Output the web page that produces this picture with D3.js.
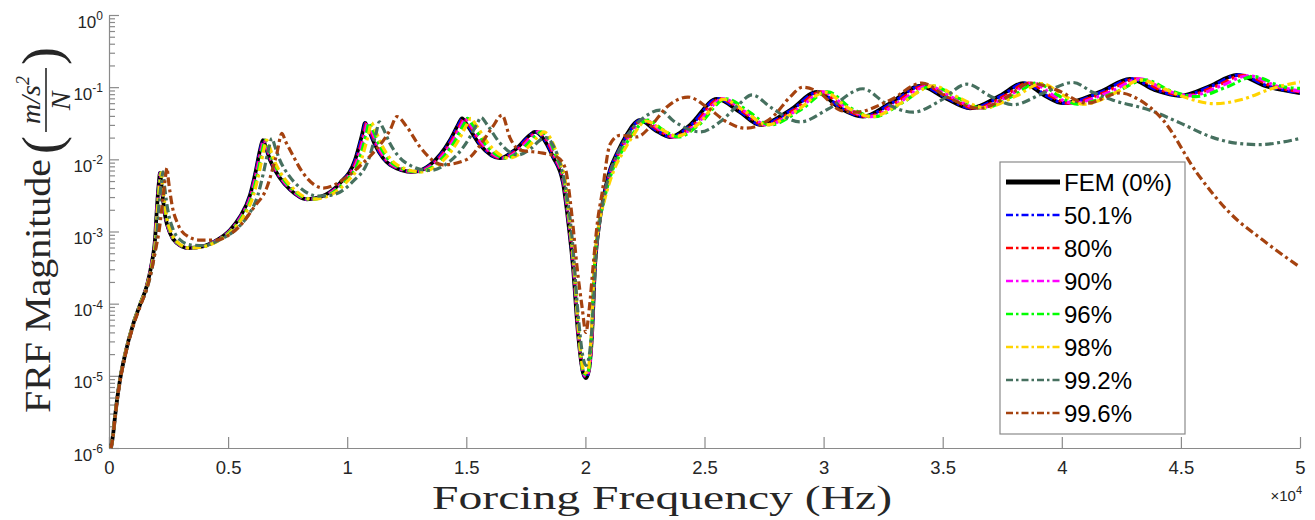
<!DOCTYPE html>
<html>
<head>
<meta charset="utf-8">
<script src="https://cdn.jsdelivr.net/npm/d3@7/dist/d3.min.js"></script>
<style>
  body { margin: 0; background: #fff; }
  svg { display: block; }
</style>
</head>
<body>
<div id="chart"></div>
<script>
// ---- data (frequency in Hz, FRF magnitude in (m/s^2)/N) ----
const legendLabels = ["FEM (0%)", "50.1%", "80%", "90%", "96%", "98%", "99.2%", "99.6%"];
const lineColors = ["#000000", "#0000ff", "#ff0000", "#ff00ff", "#00ff00", "#ffd400", "#46705f", "#a5420f"];
const xTickValues = [0, 5000, 10000, 15000, 20000, 25000, 30000, 35000, 40000, 45000, 50000];
const yTickExps = [-6, -5, -4, -3, -2, -1, 0];

const fem = [[84,1.0e-6],[168,1.5e-6],[252,2.7e-6],[336,4.6e-6],[462,8.8e-6],[672,1.95e-5],[1008,5.1e-5],[1300,9.6e-5],[1595,1.8e-4],[1805,3.8e-4],[1930,7.6e-4],[2015,2.2e-3],[2100,5.0e-3],[2140,6.5e-3],[2220,3.8e-3],[2350,1.7e-3],[2560,9.5e-4],[2850,6.9e-4],[3320,5.9e-4],[3820,6.1e-4],[4530,7.6e-4],[5080,1.05e-3],[5500,1.6e-3],[5920,3.2e-3],[6170,7.1e-3],[6340,1.35e-2],[6460,1.85e-2],[6590,1.44e-2],[6760,9.8e-3],[7180,5.5e-3],[7600,3.8e-3],[8310,2.8e-3],[8860,3.0e-3],[9700,4.7e-3],[10330,9.8e-3],[10620,2.17e-2],[10750,3.2e-2],[10870,2.7e-2],[11170,1.58e-2],[11800,8.4e-3],[12760,6.7e-3],[13480,8.4e-3],[14320,1.85e-2],[14650,3.0e-2],[14820,3.7e-2],[15030,3.0e-2],[15580,1.58e-2],[16410,1.04e-2],[17040,1.35e-2],[17670,2.17e-2],[17880,2.4e-2],[18180,2.04e-2],[18640,1.08e-2],[19060,4.7e-3],[19270,1.44e-3],[19480,3.2e-4],[19690,3.9e-5],[19900,1.1e-5],[20020,9.3e-6],[20150,1.2e-5],[20280,3.9e-5],[20400,3.2e-4],[20570,1.2e-3],[20740,2.7e-3],[21030,7.1e-3],[21330,1.22e-2],[21660,2.0e-2],[22290,3.5e-2],[22920,2.55e-2],[23550,2.04e-2],[24390,3.0e-2],[25520,6.9e-2],[26490,4.5e-2],[27330,3.0e-2],[28590,4.8e-2],[29720,8.6e-2],[30690,5.1e-2],[31650,3.9e-2],[32790,6.0e-2],[34050,0.104],[35100,0.071],[36150,0.051],[37400,0.076],[38370,0.114],[39290,0.076],[40050,0.060],[41600,0.086],[42860,0.130],[43910,0.091],[44960,0.076],[46220,0.104],[47350,0.148],[48530,0.104],[50000,0.083]];

const p501 = [[84,1.0e-6],[168,1.5e-6],[252,2.7e-6],[336,4.6e-6],[462,8.8e-6],[672,1.95e-5],[1008,5.1e-5],[1300,9.6e-5],[1595,1.8e-4],[1805,3.8e-4],[1935,7.6e-4],[2020,2.2e-3],[2105,5.0e-3],[2145,6.5e-3],[2225,3.8e-3],[2355,1.7e-3],[2565,9.5e-4],[2855,6.9e-4],[3325,5.9e-4],[3830,6.1e-4],[4540,7.6e-4],[5090,1.05e-3],[5510,1.6e-3],[5930,3.2e-3],[6180,7.1e-3],[6350,1.35e-2],[6475,1.85e-2],[6605,1.44e-2],[6775,9.8e-3],[7195,5.5e-3],[7615,3.8e-3],[8330,2.8e-3],[8880,3.0e-3],[9720,4.7e-3],[10350,9.8e-3],[10640,2.17e-2],[10770,3.2e-2],[10890,2.7e-2],[11190,1.58e-2],[11820,8.4e-3],[12790,6.7e-3],[13510,8.4e-3],[14350,1.85e-2],[14680,3.0e-2],[14850,3.7e-2],[15060,3.0e-2],[15610,1.58e-2],[16440,1.04e-2],[17070,1.35e-2],[17700,2.17e-2],[17910,2.4e-2],[18210,2.04e-2],[18660,1.08e-2],[19070,4.7e-3],[19280,1.44e-3],[19490,3.2e-4],[19700,3.9e-5],[19900,1.1e-5],[20020,9.5e-6],[20150,1.2e-5],[20280,3.9e-5],[20400,3.2e-4],[20570,1.2e-3],[20750,2.7e-3],[21040,7.1e-3],[21350,1.22e-2],[21700,2.0e-2],[22330,3.5e-2],[22960,2.55e-2],[23600,2.04e-2],[24440,3.0e-2],[25570,6.9e-2],[26540,4.5e-2],[27380,3.0e-2],[28650,4.8e-2],[29780,8.6e-2],[30750,5.1e-2],[31710,3.9e-2],[32860,6.0e-2],[34120,0.104],[35170,0.071],[36220,0.051],[37480,0.076],[38450,0.114],[39370,0.076],[40130,0.060],[41680,0.086],[42950,0.130],[44000,0.091],[45050,0.076],[46310,0.104],[47450,0.148],[48630,0.104],[50000,0.084]];

const p80 = [[84,1.0e-6],[168,1.5e-6],[252,2.7e-6],[336,4.6e-6],[462,8.8e-6],[672,1.95e-5],[1008,5.1e-5],[1300,9.6e-5],[1595,1.8e-4],[1810,3.8e-4],[1940,7.6e-4],[2025,2.2e-3],[2115,5.0e-3],[2155,6.5e-3],[2235,3.8e-3],[2365,1.7e-3],[2575,9.5e-4],[2870,6.9e-4],[3340,5.9e-4],[3845,6.1e-4],[4555,7.6e-4],[5110,1.05e-3],[5535,1.6e-3],[5955,3.2e-3],[6205,7.1e-3],[6380,1.35e-2],[6500,1.85e-2],[6630,1.44e-2],[6800,9.8e-3],[7225,5.5e-3],[7645,3.8e-3],[8360,2.8e-3],[8915,3.0e-3],[9760,4.7e-3],[10390,9.8e-3],[10685,2.17e-2],[10815,3.2e-2],[10935,2.7e-2],[11235,1.58e-2],[11870,8.4e-3],[12835,6.7e-3],[13560,8.4e-3],[14405,1.85e-2],[14740,3.0e-2],[14910,3.7e-2],[15120,3.0e-2],[15675,1.58e-2],[16510,1.04e-2],[17140,1.35e-2],[17775,2.17e-2],[17985,2.4e-2],[18280,2.04e-2],[18700,1.08e-2],[19090,4.7e-3],[19290,1.44e-3],[19500,3.2e-4],[19700,3.9e-5],[19910,1.1e-5],[20020,9.8e-6],[20150,1.2e-5],[20280,3.9e-5],[20400,3.2e-4],[20570,1.2e-3],[20760,2.7e-3],[21070,7.1e-3],[21390,1.22e-2],[21750,2.0e-2],[22420,3.5e-2],[23060,2.55e-2],[23690,2.04e-2],[24540,3.0e-2],[25670,6.9e-2],[26650,4.5e-2],[27490,3.0e-2],[28760,4.8e-2],[29900,8.6e-2],[30870,5.1e-2],[31840,3.9e-2],[32990,6.0e-2],[34250,0.104],[35310,0.071],[36370,0.051],[37620,0.076],[38600,0.114],[39530,0.076],[40290,0.060],[41850,0.086],[43120,0.130],[44170,0.091],[45230,0.076],[46500,0.104],[47630,0.146],[48820,0.104],[50000,0.086]];

const p90 = [[84,1.0e-6],[168,1.5e-6],[252,2.7e-6],[336,4.6e-6],[462,8.8e-6],[672,1.95e-5],[1008,5.1e-5],[1300,9.6e-5],[1600,1.8e-4],[1815,3.8e-4],[1945,7.6e-4],[2030,2.2e-3],[2120,5.0e-3],[2160,6.5e-3],[2240,3.8e-3],[2375,1.7e-3],[2585,9.5e-4],[2880,6.9e-4],[3355,5.9e-4],[3860,6.1e-4],[4575,7.6e-4],[5130,1.05e-3],[5555,1.6e-3],[5980,3.2e-3],[6230,7.1e-3],[6405,1.35e-2],[6525,1.85e-2],[6655,1.44e-2],[6830,9.8e-3],[7250,5.5e-3],[7675,3.8e-3],[8395,2.8e-3],[8950,3.0e-3],[9800,4.7e-3],[10435,9.8e-3],[10725,2.17e-2],[10860,3.2e-2],[10980,2.7e-2],[11280,1.58e-2],[11920,8.4e-3],[12890,6.7e-3],[13615,8.4e-3],[14465,1.85e-2],[14800,3.0e-2],[14970,3.7e-2],[15180,3.0e-2],[15735,1.58e-2],[16575,1.04e-2],[17210,1.35e-2],[17850,2.17e-2],[18060,2.4e-2],[18340,2.04e-2],[18740,1.08e-2],[19110,4.7e-3],[19300,1.44e-3],[19510,3.2e-4],[19710,3.9e-5],[19910,1.1e-5],[20020,1.0e-5],[20150,1.2e-5],[20270,3.9e-5],[20390,3.2e-4],[20560,1.2e-3],[20770,2.7e-3],[21100,7.1e-3],[21430,1.22e-2],[21800,2.0e-2],[22510,3.5e-2],[23150,2.55e-2],[23790,2.04e-2],[24630,3.0e-2],[25780,6.9e-2],[26750,4.5e-2],[27600,3.0e-2],[28880,4.8e-2],[30020,8.6e-2],[31000,5.1e-2],[31970,3.9e-2],[33120,6.0e-2],[34390,0.104],[35450,0.071],[36510,0.051],[37770,0.076],[38750,0.114],[39680,0.076],[40450,0.060],[42020,0.086],[43290,0.130],[44350,0.091],[45410,0.076],[46680,0.104],[47820,0.144],[49010,0.104],[50000,0.088]];

const p96 = [[84,1.0e-6],[168,1.5e-6],[252,2.7e-6],[336,4.6e-6],[462,8.8e-6],[672,1.95e-5],[1008,5.1e-5],[1300,9.6e-5],[1605,1.8e-4],[1825,3.8e-4],[1955,7.6e-4],[2040,2.2e-3],[2130,5.0e-3],[2175,6.5e-3],[2255,3.8e-3],[2390,1.7e-3],[2600,9.5e-4],[2895,6.9e-4],[3375,5.9e-4],[3880,6.1e-4],[4600,7.6e-4],[5160,1.05e-3],[5590,1.6e-3],[6015,3.2e-3],[6270,7.1e-3],[6440,1.35e-2],[6565,1.85e-2],[6695,1.44e-2],[6870,9.8e-3],[7295,5.5e-3],[7720,3.8e-3],[8445,2.8e-3],[9000,3.0e-3],[9855,4.7e-3],[10495,9.8e-3],[10790,2.17e-2],[10920,3.2e-2],[11045,2.7e-2],[11350,1.58e-2],[11990,8.4e-3],[12965,6.7e-3],[13695,8.4e-3],[14550,1.85e-2],[14885,3.0e-2],[15055,3.7e-2],[15270,3.0e-2],[15830,1.58e-2],[16670,1.04e-2],[17310,1.35e-2],[17950,2.17e-2],[18150,2.4e-2],[18420,2.04e-2],[18790,1.08e-2],[19130,4.7e-3],[19320,1.44e-3],[19520,3.2e-4],[19720,3.9e-5],[19920,1.1e-5],[20020,1.05e-5],[20140,1.2e-5],[20260,3.9e-5],[20380,3.2e-4],[20560,1.2e-3],[20780,2.7e-3],[21140,7.1e-3],[21490,1.22e-2],[21880,2.0e-2],[22620,3.5e-2],[23260,2.55e-2],[23900,2.04e-2],[24760,3.0e-2],[25900,6.9e-2],[26890,4.5e-2],[27740,3.0e-2],[29020,4.8e-2],[30170,8.6e-2],[31150,5.1e-2],[32130,3.9e-2],[33280,6.0e-2],[34560,0.104],[35630,0.071],[36690,0.051],[37960,0.076],[38950,0.114],[39880,0.076],[40650,0.058],[42220,0.084],[43500,0.126],[44570,0.089],[45630,0.074],[46910,0.100],[48060,0.140],[49260,0.102],[50000,0.096]];

const p98 = [[84,1.0e-6],[168,1.5e-6],[252,2.7e-6],[336,4.6e-6],[462,8.8e-6],[672,1.95e-5],[1008,5.1e-5],[1305,9.6e-5],[1610,1.8e-4],[1835,3.8e-4],[1965,7.6e-4],[2050,2.2e-3],[2150,5.0e-3],[2195,6.5e-3],[2275,3.8e-3],[2410,1.7e-3],[2625,9.5e-4],[2920,6.9e-4],[3400,5.9e-4],[3915,6.1e-4],[4645,7.6e-4],[5205,1.05e-3],[5640,1.6e-3],[6070,3.2e-3],[6325,7.1e-3],[6500,1.35e-2],[6620,1.85e-2],[6755,1.44e-2],[6930,9.8e-3],[7360,5.5e-3],[7790,3.8e-3],[8520,2.8e-3],[9080,3.0e-3],[9940,4.7e-3],[10590,9.8e-3],[10885,2.17e-2],[11020,3.2e-2],[11140,2.7e-2],[11450,1.58e-2],[12095,8.4e-3],[13080,6.7e-3],[13815,8.4e-3],[14680,1.85e-2],[15015,3.0e-2],[15190,3.7e-2],[15405,3.0e-2],[15970,1.58e-2],[16820,1.04e-2],[17465,1.35e-2],[18080,2.17e-2],[18260,2.4e-2],[18500,2.04e-2],[18850,1.08e-2],[19170,4.7e-3],[19340,1.44e-3],[19530,3.2e-4],[19730,3.9e-5],[19920,1.2e-5],[20020,1.1e-5],[20130,1.3e-5],[20250,3.9e-5],[20370,3.2e-4],[20560,1.2e-3],[20800,2.7e-3],[21200,7.1e-3],[21560,1.22e-2],[21950,2.0e-2],[22550,3.4e-2],[23200,2.6e-2],[23850,2.1e-2],[24700,3.0e-2],[25780,6.8e-2],[26750,4.5e-2],[27600,3.0e-2],[28900,4.8e-2],[30060,8.5e-2],[31050,5.1e-2],[32050,3.9e-2],[33250,6.0e-2],[34600,0.104],[35700,0.071],[36750,0.052],[38100,0.076],[39150,0.112],[40100,0.076],[40900,0.058],[42300,0.085],[43300,0.126],[44300,0.095],[45300,0.070],[46400,0.059],[47600,0.068],[48800,0.095],[50000,0.118]];

const p992 = [[84,1.0e-6],[168,1.5e-6],[252,2.7e-6],[336,4.6e-6],[462,8.8e-6],[672,1.9e-5],[1008,5.0e-5],[1310,9.4e-5],[1625,1.75e-4],[1860,3.8e-4],[1995,7.6e-4],[2090,2.2e-3],[2200,4.8e-3],[2265,6.7e-3],[2340,4.0e-3],[2480,1.9e-3],[2700,1.05e-3],[3000,7.6e-4],[3450,6.5e-4],[3950,6.4e-4],[4700,7.8e-4],[5300,1.05e-3],[5800,1.6e-3],[6250,3.2e-3],[6510,7.1e-3],[6690,1.35e-2],[6840,1.95e-2],[6970,1.5e-2],[7150,1.02e-2],[7580,5.8e-3],[8000,4.1e-3],[8770,3.1e-3],[9350,3.2e-3],[10230,4.9e-3],[10900,1.0e-2],[11200,2.2e-2],[11350,3.3e-2],[11470,2.85e-2],[11780,1.7e-2],[12450,9.0e-3],[13450,7.0e-3],[14200,8.8e-3],[15100,1.9e-2],[15450,3.1e-2],[15620,3.8e-2],[15850,3.1e-2],[16400,1.7e-2],[17150,1.15e-2],[17700,1.4e-2],[18150,1.9e-2],[18350,2.0e-2],[18650,1.55e-2],[18950,8.5e-3],[19250,2.8e-3],[19460,7.0e-4],[19680,8.0e-5],[19900,1.8e-5],[20020,1.4e-5],[20160,1.9e-5],[20300,6.0e-5],[20430,4.0e-4],[20620,1.5e-3],[20800,3.3e-3],[21100,7.5e-3],[21450,1.4e-2],[21900,2.5e-2],[22500,3.9e-2],[23130,4.8e-2],[23700,3.4e-2],[24810,2.4e-2],[25700,3.4e-2],[26400,5.6e-2],[27000,7.8e-2],[27800,5.2e-2],[29010,3.3e-2],[30200,5.0e-2],[31650,9.5e-2],[32600,6.0e-2],[33750,4.5e-2],[34900,6.5e-2],[36020,0.110],[37000,0.075],[37950,0.057],[39300,0.085],[40470,0.116],[41300,0.085],[42150,0.066],[43700,0.048],[44960,0.032],[46350,0.020],[47300,0.0168],[48320,0.0160],[49200,0.0172],[50000,0.0195]];

const p996 = [[84,1.0e-6],[168,1.45e-6],[252,2.6e-6],[336,4.4e-6],[462,8.4e-6],[672,1.85e-5],[1008,4.8e-5],[1300,9.0e-5],[1595,1.65e-4],[1805,3.1e-4],[1950,5.5e-4],[2100,1.0e-3],[2250,2.6e-3],[2350,5.0e-3],[2435,7.6e-3],[2500,5.0e-3],[2650,2.3e-3],[2900,1.25e-3],[3300,8.6e-4],[3820,7.6e-4],[4500,7.6e-4],[5000,8.8e-4],[5500,1.2e-3],[6100,2.2e-3],[6630,4.1e-3],[6900,8.0e-3],[7050,1.22e-2],[7260,2.3e-2],[7420,1.75e-2],[7600,1.35e-2],[8140,6.5e-3],[9000,4.0e-3],[9990,5.7e-3],[10600,8.5e-3],[11080,1.22e-2],[11800,2.55e-2],[12090,3.9e-2],[12510,2.8e-2],[13060,1.48e-2],[14020,8.4e-3],[15030,1.0e-2],[15600,1.6e-2],[16100,2.8e-2],[16500,4.1e-2],[16830,2.0e-2],[17250,1.35e-2],[18220,1.22e-2],[18800,1.08e-2],[19140,7.8e-3],[19440,1.6e-3],[19650,3.2e-4],[19860,9.0e-5],[20020,4.0e-5],[20170,9.0e-5],[20320,3.2e-4],[20500,1.3e-3],[20700,3.4e-3],[21030,1.6e-2],[21450,2.15e-2],[22170,2.05e-2],[22710,2.8e-2],[23420,5.3e-2],[24310,7.3e-2],[25100,5.3e-2],[25940,3.3e-2],[26700,2.7e-2],[27870,3.9e-2],[28590,7.3e-2],[29130,0.100],[29850,0.083],[30690,0.048],[31320,0.045],[32790,0.066],[34130,0.114],[35180,0.073],[36560,0.051],[37700,0.073],[38660,0.114],[39800,0.091],[41060,0.060],[42440,0.083],[43280,0.066],[44250,0.035],[45670,6.5e-3],[47060,1.8e-3],[48440,7.6e-4],[50000,3.2e-4]];

const allSeries = [fem, p501, p80, p90, p96, p98, p992, p996];

// ---- layout ----
const width = 1315, height = 520;
const margin = {top: 15, right: 15, bottom: 72, left: 109};
const axisColor = "#8a8a8a";
const labelColor = "#262626";
const sans = "Liberation Sans, Arial, sans-serif";
const serif = "Liberation Serif, Times New Roman, serif";

const svg = d3.select("#chart").append("svg")
  .attr("width", width)
  .attr("height", height)
  .style("background", "#fff");

const x = d3.scaleLinear()
  .domain([0, 50000])
  .range([margin.left, width - margin.right]);

const y = d3.scaleLog()
  .domain([1e-6, 1])
  .range([height - margin.bottom, margin.top]);

svg.append("clipPath").attr("id", "plotclip")
  .append("rect")
  .attr("x", margin.left)
  .attr("y", margin.top)
  .attr("width", width - margin.right - margin.left)
  .attr("height", height - margin.bottom - margin.top + 2);

// minor log ticks
const minorTicks = [];
yTickExps.slice(0, -1).forEach(e => {
  for (let k = 2; k <= 9; k++) minorTicks.push(k * Math.pow(10, e));
});

const yMinor = svg.append("g")
  .attr("transform", `translate(${margin.left},0)`)
  .call(d3.axisLeft(y).tickValues(minorTicks).tickSize(-6).tickFormat(""));
yMinor.select(".domain").remove();

svg.append("g")
  .attr("transform", `translate(${margin.left},0)`)
  .call(d3.axisLeft(y).tickValues(yTickExps.map(e => Math.pow(10, e))).tickSize(-10).tickSizeOuter(0).tickFormat(""));

const xAxisG = svg.append("g")
  .attr("transform", `translate(0,${height - margin.bottom})`)
  .call(d3.axisBottom(x).tickValues(xTickValues).tickSize(-11).tickSizeOuter(0).tickPadding(13)
    .tickFormat(d => d3.format("~g")(d / 1e4)));

svg.selectAll(".domain, .tick line").attr("stroke", axisColor).attr("stroke-width", 1.2);

xAxisG.selectAll("text")
  .attr("font-family", sans)
  .attr("font-size", 18.5)
  .attr("fill", labelColor);

// y tick labels 10^k
const yLab = svg.append("g");
yTickExps.forEach(e => {
  const t = yLab.append("text")
    .attr("x", margin.left - 6)
    .attr("y", y(Math.pow(10, e)) + 12.5)
    .attr("text-anchor", "end")
    .attr("font-family", sans)
    .attr("font-size", 17)
    .attr("fill", labelColor);
  t.append("tspan").text("10");
  t.append("tspan").attr("font-size", 12).attr("dy", -7.5).text(String(e));
});

// x multiplier
const mult = svg.append("text")
  .attr("x", 1302)
  .attr("y", 501)
  .attr("text-anchor", "end")
  .attr("font-family", sans)
  .attr("font-size", 15)
  .attr("fill", labelColor);
mult.append("tspan").text("\u00d710");
mult.append("tspan").attr("font-size", 11).attr("dy", -7).text("4");

// ---- curves ----
const line = d3.line()
  .x(d => x(d[0]))
  .y(d => y(d[1]))
  .curve(d3.curveMonotoneX);

const plot = svg.append("g").attr("clip-path", "url(#plotclip)");
allSeries.forEach((s, i) => {
  plot.append("path")
    .datum(s)
    .attr("fill", "none")
    .attr("stroke", lineColors[i])
    .attr("stroke-width", i === 0 ? 3.8 : 3.2)
    .attr("stroke-dasharray", i === 0 ? null : "8.5,3.5,3,3.5")
    .attr("stroke-linejoin", "round")
    .attr("d", line);
});

// ---- axis titles ----
svg.append("text")
  .attr("x", 662)
  .attr("y", 509)
  .attr("text-anchor", "middle")
  .attr("font-family", serif)
  .attr("font-size", 34)
  .attr("textLength", 460)
  .attr("lengthAdjust", "spacingAndGlyphs")
  .attr("fill", labelColor)
  .text("Forcing Frequency (Hz)");

const yt = svg.append("g").attr("transform", "translate(50,0) rotate(-90)");
yt.append("text")
  .attr("x", -413).attr("y", 0)
  .attr("font-family", serif).attr("font-size", 36)
  .attr("textLength", 254).attr("lengthAdjust", "spacingAndGlyphs")
  .attr("fill", labelColor)
  .text("FRF Magnitude");
yt.append("text")
  .attr("x", -154).attr("y", 10)
  .attr("font-family", serif).attr("font-size", 54)
  .attr("fill", labelColor).text("(");
yt.append("text")
  .attr("x", -65).attr("y", 10)
  .attr("font-family", serif).attr("font-size", 54)
  .attr("fill", labelColor).text(")");
const num = yt.append("text")
  .attr("x", -100).attr("y", -10)
  .attr("text-anchor", "middle")
  .attr("font-family", serif).attr("font-style", "italic").attr("font-size", 28)
  .attr("fill", labelColor);
num.append("tspan").text("m/s");
num.append("tspan").attr("font-size", 18).attr("dy", -11).text("2");
yt.append("line")
  .attr("x1", -132).attr("x2", -68)
  .attr("y1", -4).attr("y2", -4)
  .attr("stroke", labelColor).attr("stroke-width", 1.6);
yt.append("text")
  .attr("x", -101).attr("y", 20)
  .attr("text-anchor", "middle")
  .attr("font-family", serif).attr("font-style", "italic").attr("font-size", 28)
  .attr("fill", labelColor).text("N");

// ---- legend ----
const lg = svg.append("g");
lg.append("rect")
  .attr("x", 1000).attr("y", 162)
  .attr("width", 185).attr("height", 272)
  .attr("fill", "#fff")
  .attr("stroke", axisColor).attr("stroke-width", 1.2);

legendLabels.forEach((lab, i) => {
  const ly = 182 + i * 33;
  lg.append("line")
    .attr("x1", 1006).attr("x2", 1060)
    .attr("y1", ly).attr("y2", ly)
    .attr("stroke", lineColors[i])
    .attr("stroke-width", i === 0 ? 5 : 2.6)
    .attr("stroke-dasharray", i === 0 ? null : "7,3,2.5,3");
  lg.append("text")
    .attr("x", 1064).attr("y", ly)
    .attr("dy", "0.36em")
    .attr("font-family", sans)
    .attr("font-size", 24)
    .attr("fill", "#000")
    .text(lab);
});
</script>
</body>
</html>
